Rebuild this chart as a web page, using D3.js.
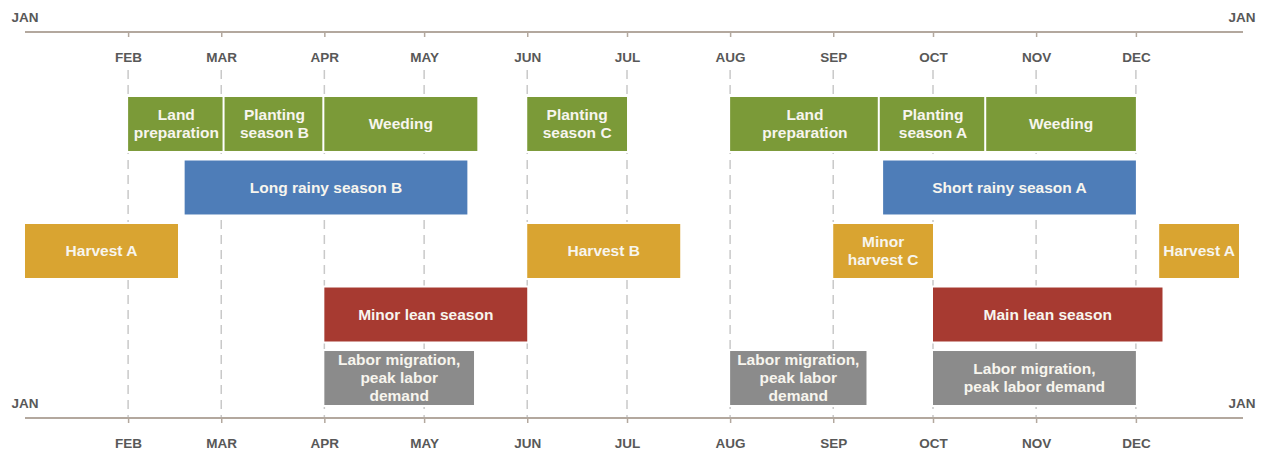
<!DOCTYPE html>
<html>
<head>
<meta charset="utf-8">
<script src="https://cdn.jsdelivr.net/npm/d3@7"></script>
<style>
  body { margin: 0; background: #fff; }
  svg { display: block; }
  .tick text, .janLabel { font-family: "Liberation Sans", Arial, sans-serif; font-weight: bold; font-size: 13.5px; fill: #585858; }
  .barLabel { font-family: "Liberation Sans", Arial, sans-serif; font-weight: 700; font-size: 15.5px; fill: #f7f5ee; }
</style>
</head>
<body>
<svg id="calendar"></svg>
<script>
const width = 1266;
const height = 457;

const months = ["JAN", "FEB", "MAR", "APR", "MAY", "JUN", "JUL", "AUG", "SEP", "OCT", "NOV", "DEC"];
const rows = ["field", "rain", "harvest", "lean", "labor"];

// one entry per bar, same order in every array
const barLabels = [
  "Land\npreparation", "Planting\nseason B", "Weeding", "Planting\nseason C",
  "Land\npreparation", "Planting\nseason A", "Weeding",
  "Long rainy season B", "Short rainy season A",
  "Harvest A", "Harvest B", "Minor\nharvest C", "Harvest A",
  "Minor lean season", "Main lean season",
  "Labor migration,\npeak labor\ndemand", "Labor migration,\npeak labor\ndemand", "Labor migration,\npeak labor demand"
];
const barStarts = [
  "2023-02-01", "2023-03-02", "2023-04-01", "2023-06-01",
  "2023-08-01", "2023-09-15", "2023-10-17",
  "2023-02-18", "2023-09-16",
  "2023-01-01", "2023-06-01", "2023-09-01", "2023-12-08",
  "2023-04-01", "2023-10-01",
  "2023-04-01", "2023-08-01", "2023-10-01"
];
const barEnds = [
  "2023-03-02", "2023-04-01", "2023-05-17", "2023-07-01",
  "2023-09-15", "2023-10-17", "2023-12-01",
  "2023-05-14", "2023-12-01",
  "2023-02-16", "2023-07-17", "2023-10-01", "2024-01-01",
  "2023-06-01", "2023-12-09",
  "2023-05-16", "2023-09-11", "2023-12-01"
];
const barRows = [
  "field", "field", "field", "field", "field", "field", "field",
  "rain", "rain",
  "harvest", "harvest", "harvest", "harvest",
  "lean", "lean",
  "labor", "labor", "labor"
];

const parse = d3.timeParse("%Y-%m-%d");
const bars = barLabels.map((label, i) => ({
  label,
  start: parse(barStarts[i]),
  end: parse(barEnds[i]),
  row: barRows[i]
}));

const svg = d3.select("#calendar")
  .attr("width", width)
  .attr("height", height);

const x = d3.scaleTime()
  .domain([new Date(2023, 0, 1), new Date(2024, 0, 1)])
  .range([25, 1239]);

const y = d3.scaleBand()
  .domain(rows)
  .range([97, 405])
  .paddingInner(0.15);

const color = d3.scaleOrdinal()
  .domain(rows)
  .range(["#7b9a38", "#4e7db8", "#d9a431", "#a73a31", "#8b8b8b"]);

const monthTicks = d3.range(1, 12).map(m => new Date(2023, m, 1));
const topY = 32;
const bottomY = 418;

// dashed month lines
svg.append("g")
  .selectAll("line")
  .data(monthTicks)
  .join("line")
  .attr("x1", d => x(d))
  .attr("x2", d => x(d))
  .attr("y1", 70)
  .attr("y2", bottomY)
  .attr("stroke", "#c9c9c9")
  .attr("stroke-width", 1.5)
  .attr("stroke-dasharray", "9,6");

function drawAxis(yPos) {
  const axis = d3.axisBottom(x)
    .tickValues(monthTicks)
    .tickSize(5)
    .tickPadding(15)
    .tickFormat(d => months[d.getMonth()]);

  const g = svg.append("g")
    .attr("transform", `translate(0,${yPos})`)
    .call(axis);

  g.select(".domain").remove();
  g.selectAll(".tick line").attr("stroke", "#b3a89e").attr("stroke-width", 1.5);
  g.selectAll(".tick text").attr("fill", "#585858");

  g.append("line")
    .attr("x1", x.range()[0])
    .attr("x2", x.range()[1] + 4)
    .attr("stroke", "#b3a89e")
    .attr("stroke-width", 2);

  g.selectAll(".janLabel")
    .data(x.domain())
    .join("text")
    .attr("class", "janLabel")
    .attr("x", (d, i) => x(d) + (i ? 3 : 0))
    .attr("y", -15)
    .attr("dy", "0.35em")
    .attr("text-anchor", "middle")
    .text(d => months[d.getMonth()]);
}

drawAxis(topY);
drawAxis(bottomY);

// bars
const barG = svg.append("g")
  .selectAll("g")
  .data(bars)
  .join("g");

barG.append("rect")
  .attr("x", d => x(d.start))
  .attr("y", d => y(d.row))
  .attr("width", d => x(d.end) - x(d.start))
  .attr("height", y.bandwidth())
  .attr("fill", d => color(d.row))
  .attr("stroke", "#fff")
  .attr("stroke-width", 4)
  .attr("paint-order", "stroke");

barG.append("text")
  .attr("class", "barLabel")
  .attr("text-anchor", "middle")
  .attr("x", d => (x(d.start) + x(d.end)) / 2)
  .attr("y", d => y(d.row) + y.bandwidth() / 2)
  .each(function(d) {
    const lines = d.label.split("\n");
    const lh = 18;
    const t = d3.select(this);
    lines.forEach((line, i) => {
      t.append("tspan")
        .attr("x", (x(d.start) + x(d.end)) / 2)
        .attr("dy", i === 0 ? `${0.35 * 15.5 - (lines.length - 1) * lh / 2}px` : `${lh}px`)
        .text(line);
    });
  });
</script>
</body>
</html>
